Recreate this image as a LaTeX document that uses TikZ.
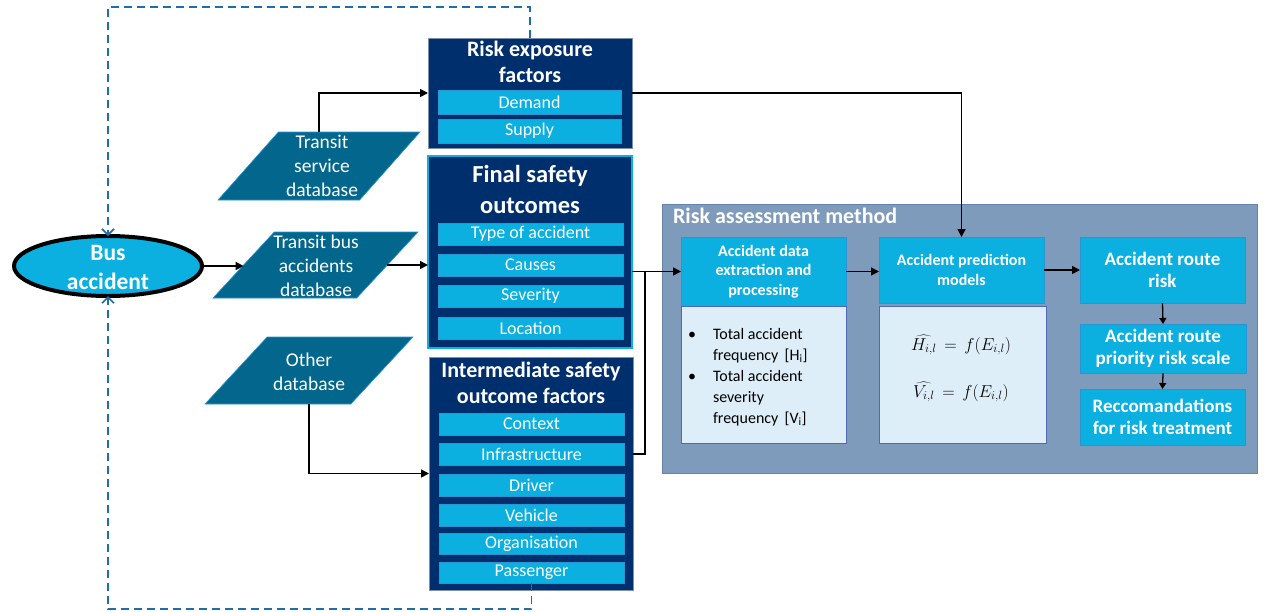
\documentclass[tikz,border=0pt]{standalone}
\usepackage{fontspec}
\setmainfont{Carlito}
\usetikzlibrary{arrows.meta,shapes.geometric,calc}
\definecolor{navyb}{RGB}{0,47,110}
\definecolor{cyanb}{RGB}{11,175,224}
\definecolor{tealb}{RGB}{3,102,141}
\definecolor{ramb}{RGB}{127,155,188}
\definecolor{ramedge}{RGB}{100,130,170}
\definecolor{lightb}{RGB}{221,238,248}
\definecolor{dashc}{RGB}{30,110,170}
\definecolor{grayb}{RGB}{125,145,175}
\definecolor{subedge}{RGB}{40,150,210}
\tikzset{
  every node/.style={inner sep=0pt, outer sep=0pt},
  cont/.style={draw=grayb, fill=navyb, line width=1pt, anchor=north west},
  sub/.style={draw=subedge, fill=cyanb, line width=0.6pt, anchor=north west, text=white,
    font=\fontsize{18}{20}\selectfont},
  ctitle/.style={text=white, align=center, font=\bfseries\fontsize{22}{26}\selectfont},
  dbase/.style={trapezium, trapezium left angle=59, trapezium right angle=121,
    trapezium stretches=true, fill=tealb, draw=subedge, line width=0.6pt},
  dtext/.style={text=white, align=center, font=\fontsize{19.5}{24}\selectfont},
  rbox/.style={draw=subedge, fill=cyanb, line width=1pt, anchor=north west, text=white,
    align=center},
  lbox/.style={draw=ramedge!80!blue, fill=lightb, line width=1pt, anchor=north west},
  arr/.style={-{Triangle[length=8pt,width=8pt]}, line width=1.6pt, black},
  plain/.style={line width=1.6pt, black},
  dashl/.style={dashc, line width=1.6pt, dash pattern=on 8pt off 5pt,
    -{Straight Barb[length=6pt,width=12pt]}},
}
\begin{document}
\begin{tikzpicture}[x=1pt,y=-1pt]
\useasboundingbox (0,0) rectangle (1265,611);

% ---------- Bus accident ----------
\node[ellipse, draw=black, line width=4pt, fill=cyanb, minimum width=188pt, minimum height=60pt] (bus) at (108,266) {};
\node[text=white, align=center, font=\bfseries\fontsize{23.5}{29}\selectfont] (bust) at (108,267) {Bus\\accident};

% ---------- databases ----------
\node[dbase, minimum width=202pt, minimum height=68pt] (ts) at (319,166) {\phantom{X}};
\node[dtext] (tst) at (322,166) {Transit\\service\\database};
\node[dbase, minimum width=205pt, minimum height=66pt] (tb) at (315.5,265) {\phantom{X}};
\node[dtext] (tbt) at (316,266) {Transit bus\\accidents\\database};
\node[dbase, minimum width=208pt, minimum height=67pt] (od) at (309,370.5) {\phantom{X}};
\node[dtext] (odt) at (309,372) {Other\\database};

% ---------- Risk exposure factors ----------
\node[cont, minimum width=204pt, minimum height=110pt] (re) at (428,38) {};
\node[ctitle] (ret) at (530,62) {Risk exposure\\factors};
\node[sub, minimum width=183pt, minimum height=24pt] (dem) at (438,90) {Demand};
\node[sub, minimum width=183pt, minimum height=24pt] (sup) at (438,119) {Supply};

% ---------- Final safety outcomes ----------
\node[cont, draw=cyanb, line width=1.5pt, minimum width=204pt, minimum height=192pt] (fs) at (428,156) {};
\node[ctitle, font=\bfseries\fontsize{24.5}{31}\selectfont] (fst) at (530,189) {Final safety\\outcomes};
\node[sub, minimum width=185pt, minimum height=22pt] (typ) at (438,223) {Type of accident};
\node[sub, minimum width=185pt, minimum height=22pt] (cau) at (438,254) {Causes};
\node[sub, minimum width=185pt, minimum height=22pt] (sev) at (438,285) {Severity};
\node[sub, minimum width=185pt, minimum height=22pt] (loc) at (438,317) {Location};

% ---------- Intermediate safety outcome factors ----------
\node[cont, minimum width=204pt, minimum height=233pt] (im) at (429,357) {};
\node[ctitle] (imt) at (531,383) {Intermediate safety\\outcome factors};
\node[sub, minimum width=185pt, minimum height=22pt] (ctx) at (439,413) {Context};
\node[sub, minimum width=185pt, minimum height=22pt] (inf) at (439,443) {Infrastructure};
\node[sub, minimum width=185pt, minimum height=22pt] (drv) at (439,474) {Driver};
\node[sub, minimum width=185pt, minimum height=22pt] (veh) at (439,504) {Vehicle};
\node[sub, minimum width=185pt, minimum height=21pt] (org) at (439,533) {Organisation};
\node[sub, minimum width=185pt, minimum height=21pt] (pas) at (439,562) {Passenger};

% ---------- Risk assessment method ----------
\node[draw=ramedge, fill=ramb, line width=1pt, anchor=north west, minimum width=595pt, minimum height=269pt] (ram) at (662,204) {};
\node[anchor=west, text=white, font=\bfseries\fontsize{22}{24}\selectfont] (ramt) at (673,216) {Risk assessment method};

\node[rbox, minimum width=165pt, minimum height=69pt, font=\bfseries\fontsize{16}{19.5}\selectfont] (ad) at (681,237) {Accident data\\extraction and\\processing};
\node[lbox, minimum width=165pt, minimum height=137pt] (adl) at (681,306) {};
\node[anchor=north west, align=left, font=\fontsize{16}{21}\selectfont] (bul) at (688,328)
  {\makebox[25pt][l]{\textbullet}Total accident\\
   \makebox[25pt][l]{}frequency\ \,[H\textsubscript{i}]\\
   \makebox[25pt][l]{\textbullet}Total accident\\
   \makebox[25pt][l]{}severity\\
   \makebox[25pt][l]{}frequency\ \,[V\textsubscript{i}]};

\node[rbox, minimum width=165pt, minimum height=66pt, font=\bfseries\fontsize{16}{20}\selectfont] (ap) at (879,237) {Accident prediction\\models};
\node[lbox, minimum width=167pt, minimum height=137pt] (apl) at (879,306) {};
\node[font=\fontsize{16.5}{20}\selectfont] (eq1) at (961,345) {$\widehat{H_{i,l}}\,=\,f\Bigl(E_{i,l}\Bigr)$};
\node[font=\fontsize{16.5}{20}\selectfont] (eq2) at (961,392) {$\widehat{V_{i,l}}\,=\,f\Bigl(E_{i,l}\Bigr)$};

\node[rbox, minimum width=165pt, minimum height=66pt, font=\bfseries\fontsize{19}{22}\selectfont] (rr) at (1080,237) {Accident route\\risk};
\node[rbox, minimum width=166pt, minimum height=49pt, font=\bfseries\fontsize{19}{22}\selectfont] (ps) at (1080,324) {Accident route\\priority risk scale};
\node[rbox, minimum width=165pt, minimum height=56pt, font=\bfseries\fontsize{19}{22}\selectfont] (rc) at (1080,389) {Reccomandations\\for risk treatment};

% ---------- connectors ----------
\draw[arr] (bus.east) -- (bus.east -| tb.west);
\draw[arr] (ts.north) |- (re.west);
\draw[arr] (tb.east) -- (tb.east -| fs.west);
\draw[arr] (od.south) |- (im.west);
\draw[arr] (re.east) -| (ap.north);
\coordinate (jx) at (645,300);
\draw[arr] (fs.east |- ad.west) -- (ad.west);
\draw[plain] (inf.east -| im.east) -| (jx |- ad.west);
\draw[arr] (ad.east) -- (ad.east -| ap.west);
\draw[arr] (ap.east) -- (ap.east -| rr.west);
\draw[arr, -{Triangle[length=6pt,width=7pt]}, line width=1.3pt] (rr.south) -- (ps.north);
\draw[arr, -{Triangle[length=6pt,width=7pt]}, line width=1.3pt] (ps.south) -- (rc.north);

% ---------- dashed feedback ----------
\draw[dashl] (re.north) -- ++(0,-31) -| (bus.north);
\draw[dashl] (pas.south) -- ++(0,26) -| (bus.south);
\end{tikzpicture}
\end{document}
